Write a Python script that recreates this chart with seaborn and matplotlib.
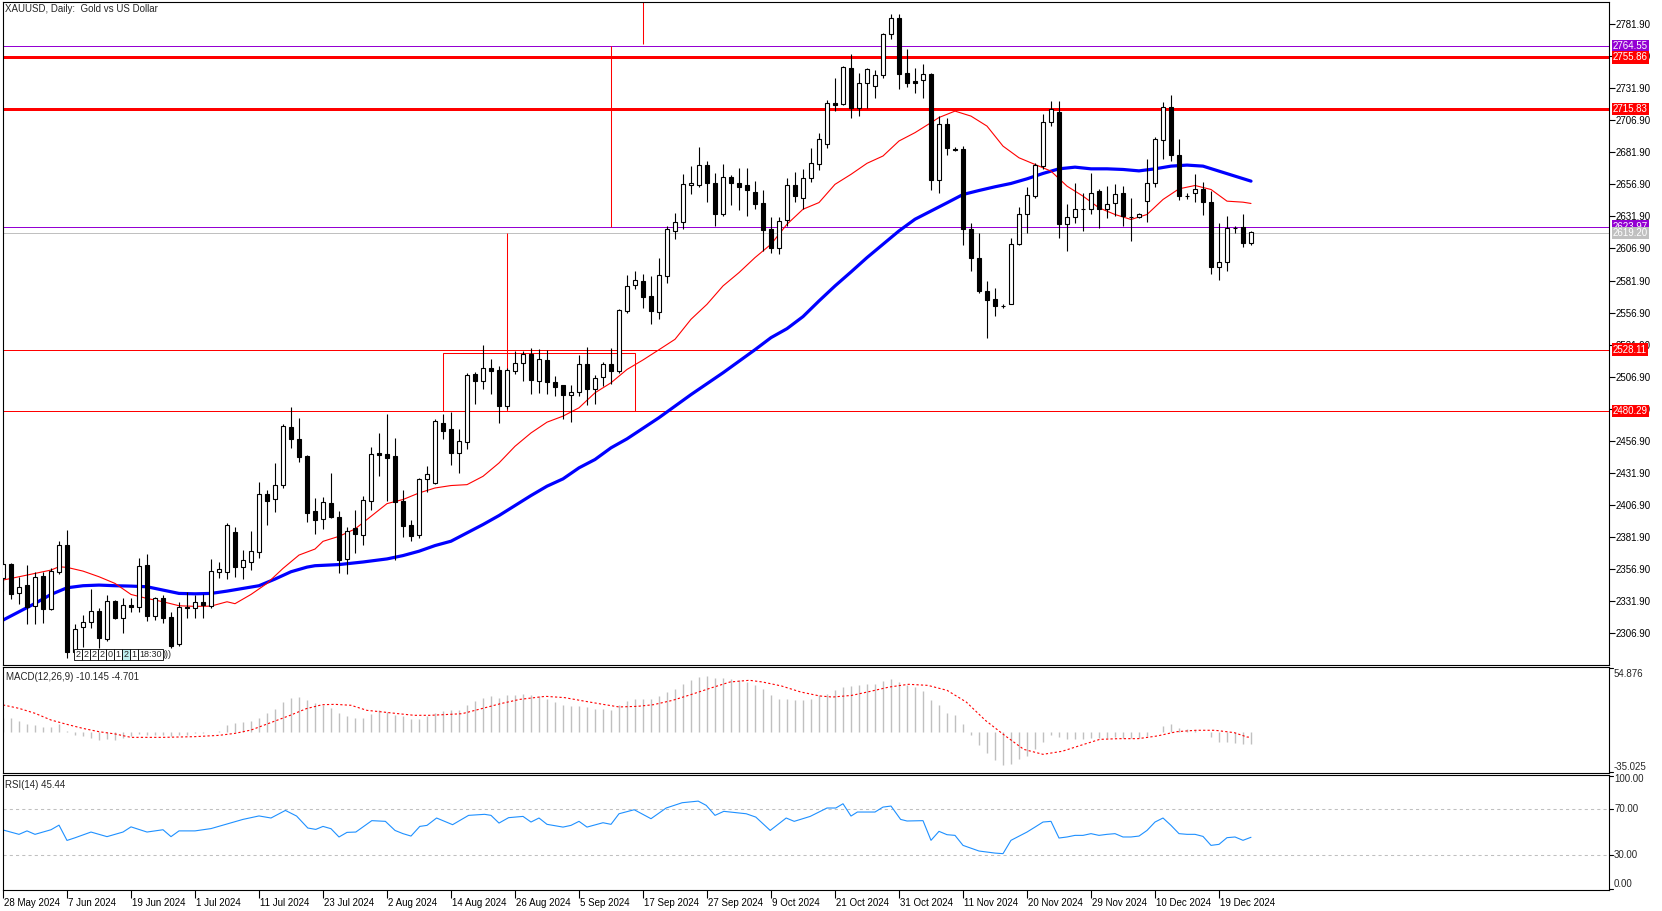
import matplotlib
matplotlib.use("Agg")
import matplotlib.pyplot as plt
import matplotlib.transforms as mtransforms
from matplotlib.patches import Rectangle
import numpy as np
import seaborn as sns

W, H = 1662, 911

# ---------------- data ----------------
date_labels = ["28 May 2024", "7 Jun 2024", "19 Jun 2024", "1 Jul 2024", "11 Jul 2024",
               "23 Jul 2024", "2 Aug 2024", "14 Aug 2024", "26 Aug 2024", "5 Sep 2024",
               "17 Sep 2024", "27 Sep 2024", "9 Oct 2024", "21 Oct 2024", "31 Oct 2024",
               "11 Nov 2024", "20 Nov 2024", "29 Nov 2024", "10 Dec 2024", "19 Dec 2024"]

opens = [2350.2, 2360.6, 2338.0, 2344.5, 2327.9, 2351.5, 2326.0, 2354.9, 2375.7, 2292.5,
         2312.0, 2315.9, 2324.2, 2302.4, 2332.0, 2318.5, 2328.6, 2327.6, 2360.1, 2320.1,
         2334.1, 2319.5, 2298.2, 2327.6, 2326.3, 2331.0, 2327.9, 2354.9, 2354.9, 2385.6,
         2358.8, 2362.7, 2370.0, 2415.5, 2411.3, 2422.5, 2467.5, 2458.4, 2445.1, 2402.2,
         2396.1, 2408.6, 2397.4, 2364.5, 2389.1, 2383.9, 2410.4, 2447.6, 2446.8, 2445.5,
         2409.9, 2391.7, 2383.4, 2427.3, 2424.2, 2471.0, 2466.3, 2447.6, 2456.2, 2508.7,
         2503.5, 2513.9, 2511.8, 2484.0, 2511.3, 2517.8, 2525.0, 2503.5, 2520.1, 2503.2,
         2500.1, 2492.8, 2494.9, 2516.5, 2497.5, 2506.6, 2516.5, 2511.3, 2558.0, 2578.2,
         2581.6, 2569.9, 2557.4, 2585.5, 2620.3, 2627.8, 2656.7, 2656.4, 2671.8, 2657.7,
         2634.1, 2662.9, 2657.7, 2656.2, 2651.2, 2642.7, 2621.9, 2607.6, 2629.1, 2656.2,
         2646.6, 2662.1, 2673.1, 2688.7, 2720.6, 2719.3, 2747.9, 2716.2, 2735.7, 2733.6,
         2742.2, 2773.9, 2786.9, 2744.0, 2737.5, 2738.0, 2743.2, 2660.5, 2704.3, 2684.6,
         2684.1, 2622.2, 2599.6, 2574.1, 2567.6, 2562.4, 2563.7, 2610.5, 2633.9, 2648.2,
         2671.1, 2705.6, 2713.4, 2626.1, 2631.6, 2637.3, 2637.8, 2652.1, 2637.3, 2642.5,
         2650.3, 2631.6, 2631.6, 2644.3, 2658.1, 2691.4, 2717.3, 2679.6, 2647.7, 2650.3,
         2652.9, 2643.3, 2592.3, 2596.2, 2622.9, 2623.5, 2610.8]
highs = [2364.0, 2361.4, 2351.0, 2360.1, 2354.4, 2354.4, 2357.5, 2378.8, 2387.4, 2314.4,
         2321.1, 2341.4, 2326.3, 2336.7, 2332.8, 2334.1, 2334.6, 2365.8, 2368.4, 2335.1,
         2336.7, 2323.7, 2331.5, 2339.3, 2336.7, 2337.7, 2364.8, 2362.7, 2393.1, 2390.0,
         2371.8, 2386.6, 2424.6, 2418.6, 2439.4, 2470.1, 2483.6, 2474.5, 2445.6, 2412.3,
         2413.0, 2432.0, 2402.0, 2389.5, 2403.4, 2413.8, 2452.0, 2462.7, 2478.2, 2458.8,
         2419.0, 2395.6, 2428.1, 2437.7, 2473.6, 2477.5, 2479.8, 2465.8, 2510.0, 2510.5,
         2531.8, 2520.4, 2515.2, 2513.9, 2526.8, 2526.8, 2529.5, 2528.7, 2527.4, 2507.3,
         2500.8, 2500.8, 2523.7, 2530.0, 2508.1, 2518.5, 2529.5, 2560.1, 2586.6, 2589.4,
         2586.8, 2585.5, 2599.8, 2624.5, 2634.9, 2664.8, 2671.3, 2686.1, 2675.1, 2666.1,
         2673.1, 2664.2, 2669.9, 2669.9, 2659.5, 2652.3, 2631.7, 2631.7, 2661.6, 2666.8,
         2669.2, 2685.5, 2696.7, 2722.7, 2740.1, 2749.2, 2758.3, 2743.5, 2747.9, 2745.8,
         2775.2, 2790.0, 2790.0, 2762.2, 2747.9, 2750.5, 2744.0, 2710.4, 2708.8, 2685.9,
         2686.7, 2626.9, 2618.6, 2581.4, 2576.2, 2564.0, 2615.2, 2639.4, 2654.9, 2673.7,
         2711.9, 2721.6, 2721.8, 2641.7, 2658.1, 2649.8, 2665.9, 2652.9, 2656.0, 2657.3,
         2655.5, 2645.9, 2634.7, 2676.3, 2694.0, 2721.2, 2726.2, 2692.4, 2649.8, 2664.6,
         2658.6, 2652.0, 2626.4, 2632.1, 2624.3, 2633.4, 2620.4]
lows = [2340.0, 2333.6, 2329.4, 2314.4, 2314.4, 2314.9, 2325.0, 2353.1, 2287.3, 2286.0,
        2296.4, 2310.7, 2295.1, 2301.1, 2318.0, 2306.8, 2323.7, 2323.7, 2316.7, 2317.2,
        2314.9, 2295.1, 2297.2, 2319.0, 2318.5, 2319.0, 2326.3, 2350.2, 2348.9, 2351.0,
        2348.9, 2356.2, 2365.3, 2391.3, 2401.2, 2419.9, 2451.1, 2440.7, 2393.4, 2384.2,
        2388.3, 2396.9, 2353.6, 2353.5, 2369.6, 2376.1, 2403.4, 2429.9, 2410.4, 2364.0,
        2382.1, 2378.7, 2381.3, 2416.9, 2423.4, 2458.0, 2437.9, 2432.0, 2450.2, 2485.3,
        2497.0, 2493.1, 2471.0, 2481.9, 2508.7, 2503.5, 2493.1, 2494.4, 2493.8, 2491.8,
        2473.6, 2471.5, 2491.8, 2484.5, 2485.5, 2499.6, 2500.9, 2510.0, 2556.7, 2575.1,
        2560.8, 2547.8, 2551.7, 2580.0, 2614.1, 2621.9, 2649.1, 2654.9, 2643.2, 2624.5,
        2632.3, 2640.6, 2636.7, 2632.3, 2637.5, 2605.0, 2603.2, 2602.4, 2624.5, 2643.2,
        2638.0, 2658.8, 2668.0, 2685.0, 2714.1, 2718.5, 2708.9, 2710.0, 2716.2, 2724.5,
        2740.1, 2770.5, 2731.5, 2732.8, 2728.4, 2724.5, 2652.5, 2650.3, 2679.4, 2682.8,
        2610.0, 2589.2, 2572.3, 2537.2, 2554.1, 2560.3, 2563.7, 2609.5, 2618.6, 2646.4,
        2669.0, 2702.0, 2614.7, 2604.8, 2626.4, 2620.4, 2633.4, 2622.5, 2630.8, 2632.1,
        2624.3, 2612.6, 2630.8, 2627.4, 2655.0, 2676.3, 2675.0, 2645.0, 2645.6, 2643.0,
        2632.9, 2587.1, 2582.2, 2589.2, 2618.6, 2607.9, 2610.0]
closes = [2360.6, 2337.2, 2342.7, 2327.3, 2350.5, 2326.0, 2355.4, 2375.7, 2292.5, 2309.9,
          2315.9, 2324.2, 2303.4, 2332.0, 2318.5, 2328.6, 2327.6, 2359.6, 2320.6, 2334.1,
          2319.0, 2297.2, 2327.1, 2326.3, 2331.0, 2328.9, 2355.4, 2357.0, 2391.3, 2358.6,
          2364.0, 2371.3, 2415.5, 2410.3, 2422.5, 2468.5, 2458.1, 2444.6, 2400.4, 2395.6,
          2409.6, 2397.4, 2364.0, 2387.0, 2384.4, 2411.2, 2446.8, 2446.0, 2443.7, 2409.4,
          2390.4, 2382.6, 2427.3, 2431.2, 2472.8, 2464.5, 2447.6, 2457.2, 2507.9, 2503.5,
          2513.9, 2511.3, 2484.0, 2512.3, 2517.8, 2524.3, 2504.2, 2520.9, 2502.7, 2499.0,
          2492.3, 2495.1, 2517.2, 2497.5, 2506.1, 2516.5, 2511.3, 2558.6, 2578.0, 2582.4,
          2569.4, 2558.2, 2586.3, 2621.9, 2627.8, 2657.0, 2658.0, 2671.8, 2658.3, 2634.1,
          2662.9, 2658.3, 2655.1, 2652.5, 2641.9, 2621.4, 2607.1, 2628.6, 2656.4, 2647.9,
          2662.1, 2673.8, 2692.6, 2720.6, 2718.8, 2748.7, 2716.7, 2736.2, 2746.6, 2742.2,
          2774.4, 2786.9, 2743.2, 2736.2, 2736.2, 2743.2, 2660.3, 2704.3, 2685.4, 2683.6,
          2622.2, 2599.6, 2573.6, 2566.6, 2561.9, 2561.9, 2610.5, 2633.9, 2648.7, 2671.6,
          2705.6, 2715.3, 2626.1, 2631.6, 2637.3, 2637.6, 2650.3, 2637.3, 2641.7, 2649.5,
          2632.1, 2631.5, 2633.4, 2658.1, 2691.9, 2717.3, 2679.6, 2647.7, 2647.5, 2652.9,
          2643.0, 2592.3, 2596.2, 2623.0, 2623.0, 2611.3, 2619.6]

# moving averages (bar index, value)
ma_fast_idx = [0, 2, 4, 6, 7, 8, 10, 12, 14, 16, 18, 20, 22, 24, 26, 28, 29, 31, 33, 35, 37, 39,
               40, 42, 44, 46, 48, 50, 52, 54, 56, 58, 60, 62, 64, 66, 68, 70, 72, 74, 76, 78,
               80, 82, 84, 86, 88, 90, 92, 94, 96, 98, 100, 102, 104, 106, 108, 110, 112, 114,
               116, 117, 119, 121, 123, 125, 127, 129, 131, 133, 135, 137, 139, 141, 143, 145,
               147, 149, 151, 153, 155, 156]
ma_fast_val = [2348.4, 2351.0, 2353.6, 2356.2, 2358.8, 2358.3, 2355.4, 2351.0, 2345.8, 2337.2,
               2334.1, 2331.5, 2328.4, 2327.9, 2328.1, 2331.5, 2330.0, 2337.2, 2345.8, 2357.5,
               2367.9, 2372.6, 2378.6, 2382.5, 2388.2, 2398.1, 2408.0, 2411.2, 2416.3, 2420.2,
               2422.1, 2422.8, 2429.3, 2439.7, 2452.7, 2463.1, 2471.5, 2476.2, 2482.7, 2494.4,
               2502.2, 2512.6, 2520.0, 2528.0, 2536.1, 2551.7, 2563.4, 2577.7, 2588.1, 2599.8,
               2610.2, 2625.8, 2637.5, 2642.7, 2656.9, 2664.7, 2673.3, 2679.0, 2690.7, 2697.2,
               2705.0, 2709.0, 2714.0, 2710.1, 2702.3, 2686.7, 2677.6, 2672.4, 2667.2, 2655.5,
               2647.7, 2638.6, 2633.4, 2629.5, 2633.4, 2645.1, 2653.4, 2656.0, 2652.9, 2643.8,
               2643.0, 2642.0]
ma_slow_idx = [0, 2, 4, 6, 8, 10, 12, 14, 16, 18, 20, 22, 24, 26, 28, 30, 32, 34, 36, 38, 39,
               42, 45, 48, 50, 52, 54, 56, 58, 60, 62, 64, 66, 68, 70, 72, 74, 76, 78, 82, 86,
               90, 94, 96, 98, 100, 102, 104, 106, 108, 110, 112, 114, 116, 118, 120, 122, 124,
               126, 128, 130, 132, 134, 136, 138, 140, 142, 144, 146, 148, 150, 152, 154, 156]
ma_slow_val = [2317.2, 2323.7, 2330.2, 2337.2, 2342.4, 2344.0, 2344.5, 2344.0, 2343.7, 2343.2,
               2340.6, 2338.0, 2337.7, 2338.0, 2339.8, 2341.9, 2344.0, 2349.2, 2354.9, 2358.5,
               2359.6, 2360.5, 2362.5, 2364.9, 2367.5, 2370.9, 2375.3, 2378.7, 2385.2, 2391.7,
               2398.7, 2406.5, 2414.3, 2421.6, 2427.3, 2435.9, 2442.4, 2451.5, 2458.5, 2475.0,
               2493.0, 2510.0, 2528.0, 2537.4, 2544.4, 2553.8, 2566.0, 2577.7, 2588.6, 2599.8,
               2610.2, 2620.6, 2629.7, 2636.1, 2642.5, 2649.0, 2652.1, 2655.0, 2657.6, 2661.2,
               2665.4, 2669.0, 2670.3, 2669.0, 2669.0, 2668.5, 2667.4, 2669.0, 2671.1, 2671.9,
               2671.1, 2667.2, 2663.3, 2659.4]

# MACD main (histogram) for every bar
macd_main = [12.0, 11.3, 9.1, 6.2, 5.7, 4.3, 4.3, 6.2, 0.5, -2.8,
             -3.7, -5.7, -7.1, -6.5, -7.1, -5.7, -3.7, -2.0, -2.8, -2.8,
             -2.8, -3.7, -2.8, -2.8, -1.5, -1.0, -0.5, 1.0, 5.7, 7.1,
             8.5, 9.1, 11.4, 16.2,
             19.5, 25.2, 28.9, 29.4, 26.6, 24.6, 22.9, 20.1, 15.9, 13.3,
             11.9, 11.6, 15.3, 18.1, 16.7, 13.9, 13.3, 10.5, 11.0, 13.0,
             15.9, 17.3, 18.1, 18.7, 22.4, 25.8, 28.6, 30.3, 28.6, 30.8,
             30.8, 32.0, 30.8, 30.0, 28.0, 25.2, 22.9, 21.5, 21.5, 21.0,
             19.5, 19.5, 18.7, 22.4, 25.8, 28.0, 28.0, 28.0, 30.3, 33.7,
             36.5, 40.2, 43.6, 46.4, 47.0, 45.8, 45.8, 45.0, 43.6, 42.2,
             39.9, 36.5, 30.8, 28.0, 27.4, 27.2, 27.2, 28.0, 30.8, 32.3,
             35.1, 37.9, 38.5, 39.3, 40.2, 40.7, 42.7, 45.0, 42.2, 39.9,
             37.9, 34.2, 26.6, 22.4, 16.1, 14.4, 6.8, -2.5, -11.0, -17.8,
             -24.3, -28.0, -27.1, -22.9, -20.6, -15.0, -8.7, -2.5, -4.5, -6.5,
             -6.5, -6.5, -5.3, -5.3, -5.3, -4.5, -5.3, -5.3, -5.3, -3.6,
             0.0, 4.6, 6.2, 3.1, 2.6, 1.2, 0.0, -4.5, -8.7, -8.7,
             -9.3, -10.1, -10.145]
# MACD signal read at sample bars
macd_sig_idx = [0, 2, 4, 6, 8, 10, 12, 14, 16, 20, 24, 27, 29, 31, 33, 35.9, 37.9, 39.9, 41.5,
                43.5, 45.5, 47.5, 49.4, 51.4, 53.4, 55.8, 57.4, 59.8, 62.2, 64.6, 67.8, 70.2,
                72.6, 75, 77, 79.3, 81.3, 83.7, 86.1, 88.5, 90.9, 93.3, 94.9, 97.3, 99.7,
                102.1, 103.7, 106.1, 108.4, 110.8, 113.2, 115.6, 118, 120.4, 122.8, 125.2,
                127.6, 130, 132.4, 134.7, 137.1, 139.5, 141.9, 144.3, 146.7, 149.1, 151.5,
                153.9, 155.5, 156]
macd_sig_val = [22.7, 19.8, 15.6, 9.9, 6.2, 2.8, 0.0, -1.9, -4.8, -4.8, -4.2, -3.1, -1.4, 1.4,
                6.5, 13.9, 19.5, 22.9, 23.2, 22.4, 18.1, 16.7, 15.3, 13.9, 13.9, 14.7, 15.3,
                19.5, 23.8, 27.4, 30.0, 28.9, 26.0, 23.2, 21.0, 21.5, 22.9, 26.6, 31.7, 37.1,
                42.2, 43.6, 42.2, 38.8, 33.7, 30.3, 29.4, 30.8, 34.2, 37.9, 40.2, 39.3, 35.1,
                25.2, 9.6, -3.1, -15.0, -19.2, -16.6, -11.6, -6.5, -5.9, -5.9, -3.6, 0.0, 1.2,
                1.2, -0.8, -4.5, -4.701]

rsi_idx = [0, 2, 3, 4, 6, 7, 8, 9, 11, 13, 15, 16, 18, 20, 21, 22, 24, 26, 28, 30, 32,
           33.5, 35.3, 36.7, 38.1, 39.1, 40, 41, 42, 43, 44.1, 46.1, 47.8, 49, 50, 51, 52.1, 53,
           54.2, 56.2, 58.2, 60.2, 61, 62, 63.2, 65, 66, 67, 68, 70, 71, 72, 73, 75, 76, 77,
           78.9, 81, 82.9, 84.9, 86.9, 87.9, 89, 90.1, 92.9, 94.1, 95.9, 97.9, 98.9, 100.9,
           103, 104.1, 105, 106, 106.8, 109, 110, 111, 112.2, 113, 115, 116, 117, 118, 119,
           120, 122, 123, 124, 125, 126, 128, 129, 130, 131, 132, 133, 134, 135, 136, 137,
           138, 139, 140, 141, 142, 143, 144, 145, 146, 147, 148, 149, 150, 151, 152, 153,
           154, 155, 156]
rsi_val = [51.8, 48.0, 51.0, 48.0, 52.0, 56.0, 42.7, 45.0, 50.0, 46.0, 50.0, 54.5, 50.0, 52.0,
           46.0, 51.0, 51.0, 53.0, 57.0, 61.0, 64.0,
           62.2, 68.8, 63.9, 53.5, 52.3, 54.9, 52.9, 45.7, 49.7, 50.0, 59.9, 59.3, 51.4, 48.6,
           46.5, 54.9, 55.8, 62.2, 56.4, 64.5, 65.4, 64.5, 57.8, 62.5, 63.6, 58.7, 62.2, 56.7,
           54.3, 55.8, 59.3, 54.3, 58.1, 56.7, 65.9, 69.4, 61.6, 70.9, 75.5, 76.9, 73.2, 64.5,
           68.0, 65.9, 63.0, 51.4, 62.2, 59.3, 63.6, 70.9, 70.9, 74.6, 63.9, 67.4, 67.4, 71.7,
           72.6, 61.0, 59.6, 59.9, 42.8, 50.6, 47.7, 47.1, 38.4, 33.5, 32.6, 31.7, 31.2, 42.8,
           50.0, 54.3, 58.7, 59.3, 44.8, 45.7, 47.1, 47.1, 48.6, 47.1, 48.0, 48.6, 45.7, 45.7,
           46.5, 51.4, 58.7, 62.2, 55.8, 48.6, 48.0, 48.0, 46.2, 38.4, 39.3, 45.1, 45.7, 42.8,
           45.44]

# horizontal levels (price, colour, width px)
hlevels = [2764.55, 2755.86, 2715.83, 2623.97, 2619.20, 2528.11, 2480.29]
hcolors = ["#9400D3", "#FF0000", "#FF0000", "#9400D3", "#C0C0C0", "#FF0000", "#FF0000"]
hwidths = [1, 3, 3, 1, 1, 1, 1]

# vertical red segments (bar, from price, to price)
vseg_bar = [80, 76, 63]
vseg_top = [2799.0, 2764.55, 2619.20]
vseg_bot = [2766.0, 2623.97, 2480.29]

# rectangle (bar from, bar to, price low, price high)
rect_bars = [55, 79]
rect_prices = [2480.29, 2525.5]

price_ticks = [2306.90 + 25 * k for k in range(20)]

# ---------------- styling ----------------
sns.set_theme(style="white")
plt.rcParams["font.family"] = ["Liberation Sans", "DejaVu Sans"]
plt.rcParams["font.size"] = 7
plt.rcParams["axes.linewidth"] = 0.8

fig = plt.figure(figsize=(W / 100, H / 100), dpi=100)
fig.patch.set_facecolor("white")


def box(top, bottom, left=3, right=1609):
    return [left / W, 1 - bottom / H, (right - left) / W, (bottom - top) / H]


ax = fig.add_axes(box(2, 665))
axm = fig.add_axes(box(667, 773))
axr = fig.add_axes(box(775, 890))

XMAX = 200.75
for a in (ax, axm, axr):
    a.set_xlim(0, XMAX)
    a.set_facecolor("white")
    for s in a.spines.values():
        s.set_color("black")
        s.set_linewidth(0.8)
    a.grid(False)

PTOP, PBOT = 2799.05, 2282.2
ax.set_ylim(PBOT, PTOP)
axm.set_ylim(-35.03, 54.876)
axr.set_ylim(-0.4, 99.6)

n = len(closes)
x = np.arange(n)
o = np.array(opens); c = np.array(closes); hi = np.array(highs); lo = np.array(lows)
up = c >= o

# horizontal lines
for p, col, w in zip(hlevels, hcolors, hwidths):
    ax.axhline(p, color=col, lw=w * 0.72, zorder=1)

# vertical segments and rectangle
for b, t, bt in zip(vseg_bar, vseg_top, vseg_bot):
    ax.vlines(b, bt, t, color="#FF0000", lw=0.75, zorder=1)
ax.add_patch(Rectangle((rect_bars[0], rect_prices[0]), rect_bars[1] - rect_bars[0],
                       rect_prices[1] - rect_prices[0], fill=False, ec="#FF0000", lw=0.75, zorder=1))

# moving averages
sns.lineplot(x=ma_slow_idx, y=ma_slow_val, ax=ax, color="#0000FF", lw=2.3, zorder=2)
sns.lineplot(x=ma_fast_idx, y=ma_fast_val, ax=ax, color="#FF0000", lw=0.8, zorder=2)

# candles
ax.vlines(x, lo, hi, color="black", lw=0.8, zorder=3)
ax.bar(x, np.maximum(np.abs(c - o), 0.05), bottom=np.minimum(o, c), width=0.62,
       color=np.where(up, "white", "black"), edgecolor="black", linewidth=0.8, zorder=4)

# right price scale
ax.yaxis.tick_right()
ax.set_yticks(price_ticks)
ax.set_yticklabels([f"{v:.2f}" for v in price_ticks])
ax.tick_params(axis="y", direction="out", length=4, width=0.8, pad=1, labelsize=7,
               colors="black", right=True, left=False)
ax.set_xticks([])
ax.set_xlabel(""); ax.set_ylabel("")

trans = mtransforms.blended_transform_factory(ax.transAxes, ax.transData)
label_order = [4, 0, 1, 2, 3, 5, 6]
for k in label_order:
    p, col = hlevels[k], hcolors[k]
    ax.text(1 + 4 / 1606, p, f"{p:.2f}", transform=trans, ha="left", va="center",
            color="white", fontsize=7, clip_on=False, zorder=20 + k,
            bbox=dict(boxstyle="square,pad=0.12", fc=col, ec="none"))

# MACD panel
axm.vlines(x, 0, macd_main, color="#C0C0C0", lw=1.0, zorder=1)
sns.lineplot(x=macd_sig_idx, y=macd_sig_val, ax=axm, color="#FF0000", lw=0.8,
             linestyle=(0, (2, 2)), zorder=2)
axm.set_xticks([]); axm.set_yticks([])
axm.set_xlabel(""); axm.set_ylabel("")

# RSI panel
for lvl in (70, 30):
    axr.axhline(lvl, color="#C0C0C0", lw=0.75, ls=(0, (3, 3)), zorder=1)
sns.lineplot(x=rsi_idx, y=rsi_val, ax=axr, color="#1E90FF", lw=0.8, zorder=2)
axr.set_yticks([])
axr.set_xlabel(""); axr.set_ylabel("")
axr.set_xticks(np.arange(0, 8 * len(date_labels), 8))
axr.set_xticklabels(date_labels)
axr.tick_params(axis="x", direction="out", length=6, width=0.8, pad=0, labelsize=7,
                colors="black", bottom=True)
off = mtransforms.ScaledTranslation(1.5 / 100, 0, fig.dpi_scale_trans)
for lbl in axr.get_xticklabels():
    lbl.set_ha("left")
    lbl.set_transform(lbl.get_transform() + off)


def ftext(xp, yp, s, **kw):
    kw.setdefault("fontsize", 7)
    fig.text(xp / W, 1 - yp / H, s, va="center", **kw)


def fline(x0, y0, x1, y1, **kw):
    fig.add_artist(plt.Line2D([x0 / W, x1 / W], [1 - y0 / H, 1 - y1 / H],
                              transform=fig.transFigure, color="black", lw=0.8, **kw))


ftext(5, 9.5, "XAUUSD, Daily:  Gold vs US Dollar")
ftext(6, 676.5, "MACD(12,26,9) -10.145 -4.701")
ftext(5, 784.5, "RSI(14) 45.44")

# sub-window scales
ftext(1614, 674, "54.876")
fline(1609, 668, 1613, 668)
ftext(1614, 767, "-35.025")
fline(1609, 772, 1613, 772)
ftext(1614, 779.5, "100.00")
fline(1609, 776, 1613, 776)
ftext(1614, 809, "70.00")
fline(1609, 809, 1613, 809)
ftext(1614, 855, "30.00")
fline(1609, 855, 1613, 855)
ftext(1614, 884, "0.00")
fline(1609, 889, 1613, 889)

# small quick-panel boxes at the lower left of the price window
digits = ["2", "2", "2", "2", "0", "1", "2", "1"]
for k, d in enumerate(digits):
    x0 = 74 + 8 * k
    fc = "#BFEFEF" if k == 6 else "white"
    fig.add_artist(Rectangle((x0 / W, 1 - 660 / H), 8 / W, 11 / H, transform=fig.transFigure,
                             fc=fc, ec="black", lw=0.6))
    ftext(x0 + 4, 654.5, d, ha="center", fontsize=6.5)
fig.add_artist(Rectangle((138 / W, 1 - 660 / H), 25 / W, 11 / H, transform=fig.transFigure,
                         fc="white", ec="black", lw=0.6))
ftext(150.5, 654.5, "18:30", ha="center", fontsize=6.5)
ftext(163, 654.5, ")))", ha="left", fontsize=6.5)

fig.savefig("out.png", dpi=100, facecolor="white")
